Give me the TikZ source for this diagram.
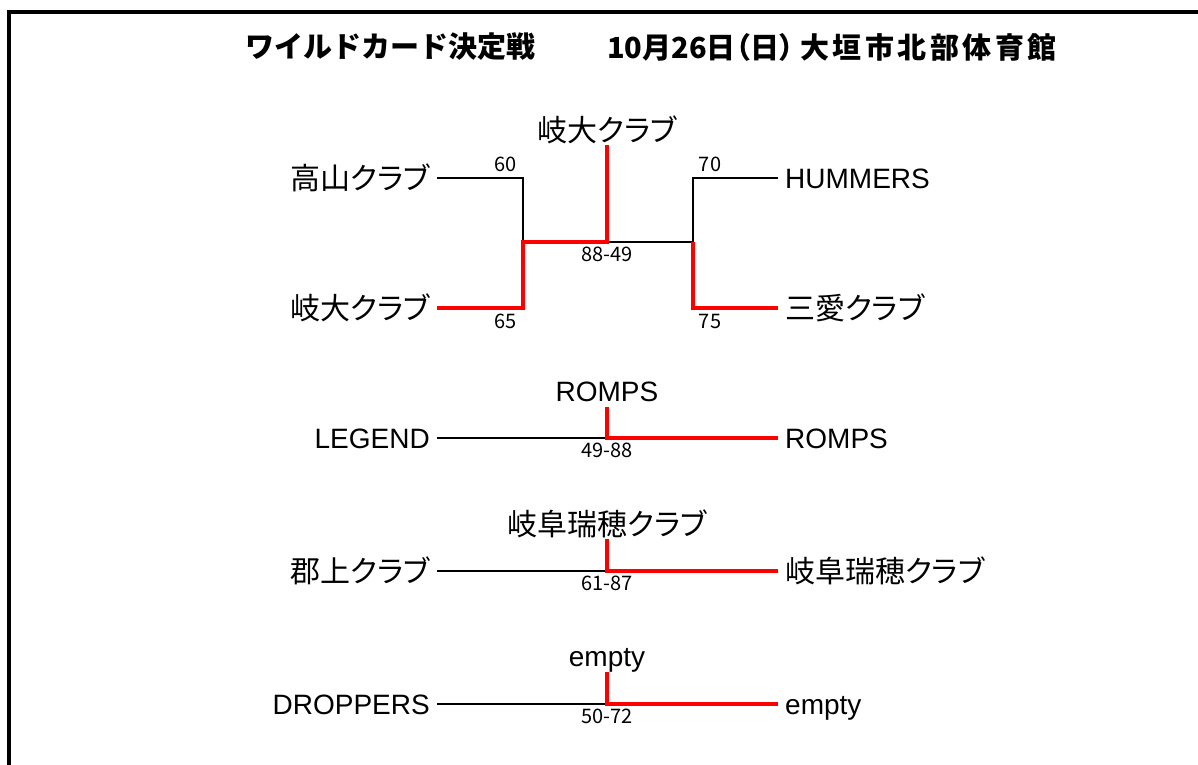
\documentclass[tikz,border=0pt]{standalone}
\usepackage{fontspec}
\setmainfont{Noto Sans CJK JP}[RawFeature=+palt]
\newfontfamily\latinfont{Liberation Sans}
\newfontfamily\widefont{Noto Sans CJK JP}

\tikzset{
    team/.style={font=\fontsize{30}{32}\selectfont, inner xsep=7pt, inner ysep=0pt},
    latin/.style={team, font=\latinfont\fontsize{28}{32}\selectfont, text height=20pt, text depth=0pt},
    champ/.style={anchor=south, inner sep=1pt},
    latinchamp/.style={latin, anchor=south, inner ysep=5pt},
    score/.style={font=\fontsize{20}{22}\selectfont, inner sep=1pt},
    lose/.style={draw=black, line width=2pt},
    win/.style={draw=red, line width=4pt},
    titletext/.style={font=\bfseries\fontsize{29}{32}\selectfont, anchor=west, inner sep=0pt}
}

\begin{document}
\begin{tikzpicture}[x=1pt, y=-1pt]

\useasboundingbox (0,0) rectangle (1198,764);

% frame on the left and top
\draw[line width=4pt] (8.5,770) -- (8.5,12) -- (1205,12);

% title line
\node[titletext, font=\widefont\bfseries\fontsize{29}{32}\selectfont] (title1) at (245,47) {ワイルドカード決定戦};
\node[titletext] (title2) at (607,47) {10月26日（日）};
\node[titletext, font=\widefont\bfseries\fontsize{29}{32}\selectfont\addfontfeature{LetterSpace=12}] (title3) at (800,47) {大垣市北部体育館};

% first bracket: two semifinals and the final
\node[team, anchor=east] (takayama) at (437,178) {高山クラブ};
\node[team, anchor=east] (gidai) at (437,308) {岐大クラブ};
\node[latin, anchor=west] (hummers) at (778,178) {HUMMERS};
\node[team, anchor=west] (sanai) at (778,308) {三愛クラブ};
\node[team, champ] (winA) at (607,145) {岐大クラブ};

\coordinate (semiL) at (523,242);
\coordinate (semiR) at (693,242);
\coordinate (finalA) at (607,242);

\draw[lose] (takayama.east) -- node[score, above=4pt, pos=0.8] {60} (takayama.east -| semiL) -- (semiL);
\draw[lose] (hummers.west) -- node[score, above=4pt, pos=0.8] {70} (hummers.west -| semiR) -- (semiR) -- (finalA);
\draw[win] (sanai.west) -- node[score, below=3pt, pos=0.8] {75} (sanai.west -| semiR) -- (semiR);
\draw[win] (gidai.east) -- node[score, below=3pt, pos=0.8] {65} (gidai.east -| semiL) -- (semiL) -- (finalA) -- (winA.south);
\node[score, below=4pt] (scoreA) at (finalA) {88-49};

% second bracket
\node[latin, anchor=east] (legend) at (437,438) {LEGEND};
\node[latin, anchor=west] (romps) at (778,438) {ROMPS};
\node[latinchamp] (winB) at (607,407) {ROMPS};
\coordinate (finalB) at (607,438);
\draw[lose] (legend.east) -- (finalB);
\draw[win] (romps.west) -- (finalB) -- (winB.south);
\node[score, below=4pt] (scoreB) at (finalB) {49-88};

% third bracket
\node[team, anchor=east] (gujo) at (437,571) {郡上クラブ};
\node[team, anchor=west] (mizuho) at (778,571) {岐阜瑞穂クラブ};
\node[team, champ] (winC) at (607,539) {岐阜瑞穂クラブ};
\coordinate (finalC) at (607,571);
\draw[lose] (gujo.east) -- (finalC);
\draw[win] (mizuho.west) -- (finalC) -- (winC.south);
\node[score, below=4pt] (scoreC) at (finalC) {61-87};

% fourth bracket
\node[latin, anchor=east] (droppers) at (437,704) {DROPPERS};
\node[latin, anchor=west] (emptyR) at (778,704) {empty};
\node[latinchamp] (winD) at (607,672) {empty};
\coordinate (finalD) at (607,704);
\draw[lose] (droppers.east) -- (finalD);
\draw[win] (emptyR.west) -- (finalD) -- (winD.south);
\node[score, below=4pt] (scoreD) at (finalD) {50-72};

\end{tikzpicture}
\end{document}
